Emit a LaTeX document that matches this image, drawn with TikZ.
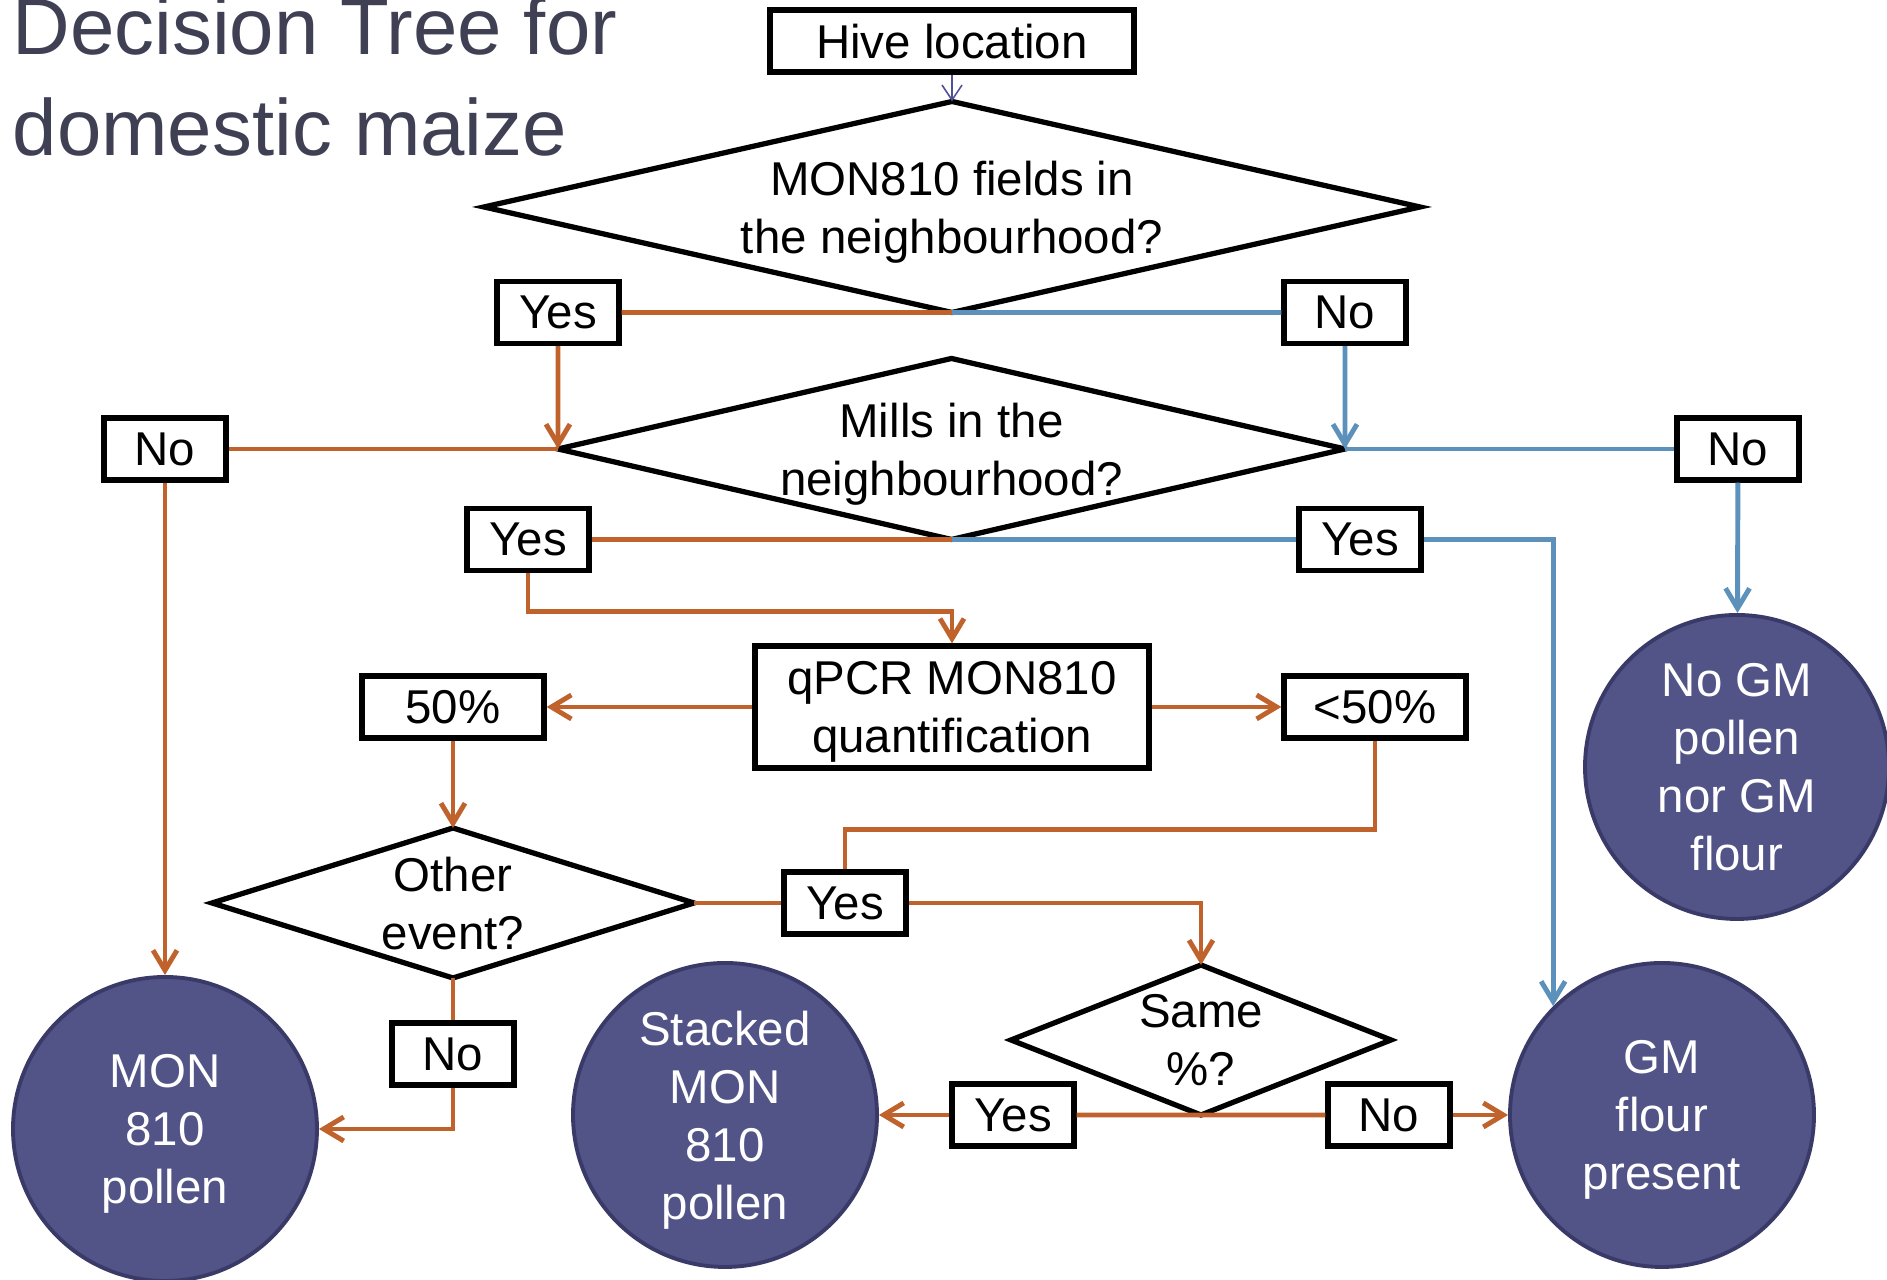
\documentclass[tikz,border=0pt]{standalone}
\usepackage{fontspec}
\setmainfont{Liberation Sans}
\usepackage{xcolor}
\usepackage{tikz}
\usetikzlibrary{shapes.geometric,arrows.meta}
\definecolor{yesorange}{RGB}{192,98,44}
\definecolor{noblue}{RGB}{91,145,186}
\definecolor{leafpurple}{RGB}{82,84,136}
\definecolor{leafedge}{RGB}{58,58,104}
\definecolor{titlegray}{RGB}{64,64,84}
\definecolor{hivearrow}{RGB}{80,80,150}

\begin{document}
\begin{tikzpicture}[every node/.style={font=\fontsize{13.5}{16.5}\selectfont, text depth=0pt},
  box/.style={draw, rectangle, line width=1.5pt, inner sep=0pt, minimum width=1.22cm, minimum height=0.62cm},
  decision/.style={draw, diamond, line width=1.5pt, inner sep=0pt, outer sep=0pt, align=center},
  leaf/.style={draw=leafedge, circle, line width=1.1pt, fill=leafpurple, text=white, align=center, inner sep=0pt, minimum size=3.04cm},
  yespath/.style={yesorange, line width=1.4pt},
  nopath/.style={noblue, line width=1.4pt},
  flow/.style={-{Straight Barb[length=2mm,width=2.4mm]}}]
\useasboundingbox (0,0) rectangle (18.87,12.80);

% Title
\node[anchor=base west, align=left, text=titlegray, inner sep=0pt, font=\fontsize{22.7}{29}\selectfont] (title) at (0.12,11.24) {Decision Tree for\\domestic maize};

% Start and first question
\node[box, minimum width=3.64cm] (hive) at (9.52,12.39) {Hive location};
\node[decision, aspect=4.436, minimum width=9.36cm, minimum height=2.11cm] (fields) at (9.52,10.73) {MON810 fields in\\the neighbourhood?};
\node[box] (yes1) at (5.58,9.675) {Yes};
\node[box] (no1) at (13.45,9.675) {No};

% Second question
\node[decision, aspect=4.348, minimum width=7.87cm, minimum height=1.81cm] (mills) at (9.515,8.31) {Mills in the\\neighbourhood?};
\node[box] (no2) at (1.65,8.31) {No};
\node[box] (no3) at (17.38,8.31) {No};
\node[box] (yes2) at (5.28,7.405) {Yes};
\node[box] (yes3) at (13.60,7.405) {Yes};

% Quantification
\node[box, minimum width=3.94cm, minimum height=1.22cm, align=center] (qpcr) at (9.52,5.73) {qPCR MON810\\quantification};
\node[box, minimum width=1.82cm] (p50) at (4.53,5.73) {50\%};
\node[box, minimum width=1.82cm] (lt50) at (13.75,5.73) {<50\%};

% Lower questions
\node[decision, aspect=3.213, minimum width=4.82cm, minimum height=1.50cm] (other) at (4.53,3.77) {Other\\event?};
\node[box] (yes4) at (8.45,3.77) {Yes};
\node[box] (no4) at (4.53,2.26) {No};
\node[decision, aspect=2.533, minimum width=3.80cm, minimum height=1.50cm] (same) at (12.01,2.40) {Same\\\%?};
\node[box] (yes5) at (10.13,1.65) {Yes};
\node[box] (no5) at (13.89,1.65) {No};

% Outcomes
\node[leaf] (mon) at (1.65,1.51) {MON\\810\\pollen};
\node[leaf] (stacked) at (7.25,1.65) {Stacked\\MON\\810\\pollen};
\node[leaf] (gmflour) at (16.62,1.65) {GM\\flour\\present};
\node[leaf] (nogm) at (17.37,5.13) {No GM\\pollen\\nor GM\\flour};

% Connectors
\draw[hivearrow, line width=0.45pt, -{Straight Barb[length=1.5mm,width=2mm]}] (hive) -- (fields);
\draw[yespath] (yes1) -- (fields.south);
\draw[nopath] (fields.south) -- (no1);
\draw[yespath, flow] (yes1) -- (mills.west);
\draw[nopath, flow] (no1) -- (mills.east);
\draw[yespath] (mills.west) -- (no2);
\draw[nopath] (mills.east) -- (no3);
\draw[yespath, flow] (no2) -- (mon);
\draw[nopath, flow] (no3) -- (nogm);
\draw[yespath] (yes2) -- (mills.south);
\draw[nopath] (mills.south) -- (yes3);
\draw[nopath, flow] (yes3) -| (gmflour.north west);
\draw[yespath, flow] (yes2.south) -- ++(0,-0.38) -| (qpcr);
\draw[yespath, flow] (qpcr) -- (p50);
\draw[yespath, flow] (qpcr) -- (lt50);
\draw[yespath, flow] (p50) -- (other);
\draw[yespath] (other) -- (yes4);
\draw[yespath] (lt50.south) -- ++(0,-0.89) -| (yes4);
\draw[yespath, flow] (yes4) -| (same);
\draw[yespath] (other) -- (no4);
\draw[yespath, flow] (no4) |- (mon);
\draw[yespath] (yes5) -- (same.south) -- (no5);
\draw[yespath, flow] (yes5) -- (stacked);
\draw[yespath, flow] (no5) -- (gmflour);
\end{tikzpicture}
\end{document}
